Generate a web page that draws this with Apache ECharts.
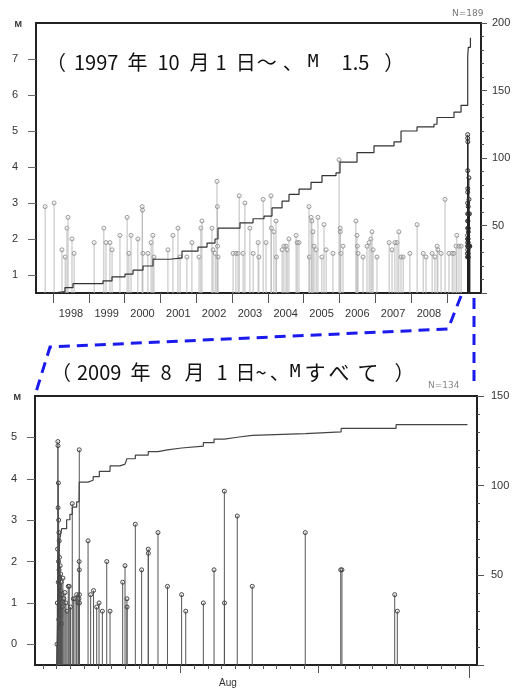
<!DOCTYPE html>
<html><head><meta charset="utf-8">
<script src="https://cdn.jsdelivr.net/npm/echarts@6/dist/echarts.min.js"></script>
<style>html,body{margin:0;padding:0;background:#fff}#c{width:528px;height:691px}</style>
</head><body><div id="c"></div>
<script>
// ---- Long-term catalogue, 1997-10 to 2009-07 (M >= 1.5): decimal year / magnitude
const longYears = [1997.78,1998.03,1998.25,1998.34,1998.39,1998.42,1998.53,1998.59,1999.15,1999.42,1999.48,1999.59,1999.65,1999.87,
  2000.07,2000.12,2000.18,2000.37,2000.49,2000.50,2000.51,2000.65,2000.74,2000.79,2000.82,2001.21,2001.35,2001.49,2001.55,2001.74,2001.88,
  2002.08,2002.13,2002.16,2002.44,2002.47,2002.53,2002.58,2002.59,2002.595,2002.61,2003.03,2003.11,2003.17,2003.20,2003.31,2003.36,2003.50,
  2003.59,2003.73,2003.75,2003.87,2003.95,2004.09,2004.10,2004.17,2004.23,2004.24,2004.40,2004.45,2004.51,2004.54,2004.59,2004.79,2004.82,
  2004.87,2005.15,2005.16,2005.21,2005.23,2005.26,2005.29,2005.35,2005.40,2005.51,2005.57,2005.63,2005.82,2005.99,2006.02,2006.025,2006.04,
  2006.10,2006.46,2006.49,2006.50,2006.52,2006.66,2006.77,2006.83,2006.88,2006.91,2006.94,2007.05,2007.39,2007.47,2007.55,2007.61,2007.66,
  2007.72,2007.78,2007.97,2008.17,2008.34,2008.42,2008.59,2008.67,2008.73,2008.75,2008.84,2008.95,2009.06,2009.15,2009.20,2009.26,2009.28,
  2009.34,2009.40];
const longMags = [2.9,3.0,1.7,1.5,2.3,2.6,2.0,1.6,1.9,2.3,1.9,1.9,1.7,2.1,
  2.6,1.6,2.1,2.0,2.9,2.8,1.6,1.6,1.9,2.1,1.5,1.7,2.1,2.3,1.5,1.5,1.9,
  1.5,2.3,2.5,2.3,1.7,1.6,3.6,2.9,1.8,1.5,1.6,1.6,1.6,3.2,1.6,3.0,2.3,
  1.6,1.9,1.5,3.1,1.9,3.2,2.3,2.2,2.5,1.5,1.7,1.8,1.8,1.7,2.0,2.1,1.9,
  1.9,2.9,1.5,2.6,2.5,2.2,1.8,1.7,2.6,1.5,2.4,1.7,1.6,4.2,2.3,2.2,1.6,
  1.8,2.5,2.1,1.8,1.6,1.5,1.8,1.9,2.0,2.2,1.7,1.5,1.9,1.7,1.9,1.9,2.2,
  1.5,1.5,1.6,2.4,1.6,1.5,1.6,1.5,1.8,1.7,1.6,3.1,1.6,1.6,1.6,1.8,2.1,
  1.8,1.8];

// ---- Cumulative number of events (M >= 1.5), long-term
const cumYears  = [1997.777,1998.0,1998.335,1998.559,1999.397,1999.648,2000.011,2000.235,2000.514,2000.793,2001.268,2001.603,2002.05,
  2002.302,2002.525,2002.609,2003.223,2003.587,2003.894,2004.117,2004.397,2004.592,2004.872,2005.207,2005.514,2005.905,2006.017,2006.492,
  2006.966,2007.525,2007.721,2008.168,2008.642,2008.726,2009.201,2009.397,2009.584,2009.60,2009.66];
const cumCounts = [0,1,4,7,9,12,14,17,20,25,26,31,34,37,40,48,52,55,57,63,68,73,77,82,87,89,97,104,109,112,120,123,125,130,134,139,175,182,189];

// ---- August 2009 swarm, all magnitudes: day of August / magnitude
const swarmDays = [2.02,2.04,2.06,2.08,2.09,2.10,2.11,2.12,2.13,2.14,2.15,2.16,2.17,2.18,2.19,2.20,2.21,2.22,2.23,2.24,2.25,2.26,2.27,2.28,
  2.29,2.30,2.31,2.33,2.35,2.37,2.40,2.45,2.52,2.60,2.67,2.75,2.84,2.91,3.00,3.13,3.21,3.33,3.45,3.55,3.62,3.63,3.64,3.645,3.65,3.655,
  4.28,4.47,4.68,4.91,5.08,5.32,5.64,5.88,6.80,6.97,7.11,7.12,7.72,8.18,8.66,8.67,9.37,10.06,11.09,11.39,12.67,13.45,14.20,14.21,
  15.14,16.23,20.09,22.67,22.76,26.60,26.79];
const swarmMags = [0.0,1.0,2.3,4.9,4.8,3.3,1.5,3.9,2.0,3.0,0.6,2.7,1.8,2.5,0.9,2.1,1.6,1.2,1.4,0.4,1.9,0.8,1.1,1.7,
  1.3,0.7,1.0,1.5,0.5,1.2,0.9,1.6,1.1,1.25,1.0,0.8,1.4,1.4,0.9,3.4,1.1,1.1,1.2,1.0,1.1,2.0,4.7,1.8,1.2,1.0,
  2.5,1.2,1.3,0.9,1.0,0.8,2.0,0.8,1.5,1.9,1.1,0.9,2.9,1.8,2.3,2.2,2.7,1.4,1.2,0.8,1.0,1.8,3.7,1.0,
  3.1,1.4,2.7,1.8,1.8,1.2,0.8];

// ---- Cumulative number of events, August 2009
const swarmCumDays   = [2.00,2.05,2.10,2.15,2.22,2.36,2.72,2.96,3.13,3.45,3.62,3.64,4.28,4.65,5.10,5.88,6.60,6.97,7.11,7.72,8.66,9.37,10.06,
  11.09,12.67,13.45,14.20,15.14,16.23,20.09,22.70,26.70,31.90];
const swarmCumCounts = [0,20,45,60,70,76,81,84,88,91,92,102,103,105,108,111,112,113,115,117,119,120,121,122,124,126,127,128,129,130,132,134,134];

const yearBounds = [1998,1999,2000,2001,2002,2003,2004,2005,2006,2007,2008,2009];
const yearLabelPos = [1998.5,1999.5,2000.5,2001.5,2002.5,2003.5,2004.5,2005.5,2006.5,2007.5,2008.5];
const magTicksTop = [1,2,3,4,5,6,7];
const magTicksBottom = [0,1,2,3,4,5];
const augDays = Array.from({length: 32}, (_, i) => i + 1);
const augTenDays = [11, 21];
const sepStart = [32];
const monthLabelPos = [14.46];

// swarm events with M >= 1.5 also belong to the long-term plot
const swarmAsYear = [];
swarmDays.forEach((d, i) => { if (swarmMags[i] >= 1.5) swarmAsYear.push([2009 + (211 + d) / 365, swarmMags[i]]); });

// heading pieces: [text, space before (px), font kind]
const headTop = [['（',0,'j'],['1997',8,'j'],['年',9,'j'],['10',10,'j'],['月',10,'j'],['1',6,'j'],['日',9,'j'],
  ['～',1,'j'],['、',6,'j'],['M',5,'m'],['1.5',23,'j'],['）',15,'j']];
const headBottom = [['（',0,'j'],['2009',6,'j'],['年',9,'j'],['8',10,'j'],['月',13,'j'],['1',12,'j'],['日',8,'j'],
  ['~',0,'j'],['、',3,'j'],['M',0,'m'],['す',4,'k'],['べ',3,'k'],['て',8,'k'],['）',16,'j']];

function heading(parts) {
  const rich = {};
  let text = '';
  parts.forEach(([t, gap, kind], i) => {
    const name = 't' + i;
    rich[name] = {
      fontFamily: kind === 'm' ? 'DejaVu Sans Mono' : 'Noto Sans CJK JP',
      fontSize: kind === 'm' ? 18 : kind === 'k' ? 21 : 20,
      fontWeight: 'normal', color: '#111', padding: [0, 0, 0, gap]
    };
    text += '{' + name + '|' + t + '}';
  });
  return { text, rich };
}
const h1 = heading(headTop), h2 = heading(headBottom);

function stem(base, lineColor, ringColor, r) {
  return function (params, api) {
    const x = api.value(0), m = api.value(1);
    const top = api.coord([x, m]);
    const bot = api.coord([x, base]);
    return { type: 'group', children: [
      { type: 'line', shape: { x1: top[0], y1: top[1], x2: bot[0], y2: bot[1] }, style: { stroke: lineColor, lineWidth: 1 } },
      { type: 'circle', shape: { cx: top[0], cy: top[1], r: r }, style: { fill: 'none', stroke: ringColor, lineWidth: 1 } }
    ]};
  };
}

const labelFont = { color: '#333', fontSize: 11, fontFamily: 'Liberation Sans' };
const axisBlack = { show: true, onZero: false, lineStyle: { color: '#222', width: 2 } };

const chart = echarts.init(document.getElementById('c'), null, { renderer: 'canvas' });
chart.setOption({
  animation: false,
  backgroundColor: '#fff',
  title: [
    { text: h1.text, left: 41, top: 47, textStyle: { fontWeight: 'normal', rich: h1.rich } },
    { text: h2.text, left: 46, top: 357, textStyle: { fontWeight: 'normal', rich: h2.rich } },
    { text: 'N=189', left: 447, top: 4, textStyle: { fontSize: 9, fontWeight: 'normal', color: '#777', fontFamily: 'DejaVu Sans' } },
    { text: 'N=134', left: 423, top: 376, textStyle: { fontSize: 9, fontWeight: 'normal', color: '#888', fontFamily: 'DejaVu Sans' } }
  ],
  grid: [
    { left: 36, top: 23, width: 445, height: 270, show: true, borderColor: '#222', borderWidth: 2, containLabel: false },
    { left: 35, top: 396, width: 442, height: 269, show: true, borderColor: '#222', borderWidth: 2, containLabel: false }
  ],
  xAxis: [
    { type: 'value', gridIndex: 0, min: 1997.525, max: 2009.955, position: 'bottom',
      axisLine: axisBlack, splitLine: { show: false },
      axisTick: { show: true, customValues: yearBounds, length: 10, lineStyle: { color: '#555', width: 1 } },
      axisLabel: { customValues: yearLabelPos, formatter: v => String(Math.floor(v)), margin: 15, ...labelFont } },
    { type: 'value', gridIndex: 1, min: 0.418, max: 32.59, position: 'bottom',
      axisLine: axisBlack, splitLine: { show: false },
      axisTick: { show: true, customValues: augDays, length: 4, lineStyle: { color: '#555', width: 1 } },
      axisLabel: { show: false } },
    { type: 'value', gridIndex: 1, min: 0.418, max: 32.59, position: 'bottom',
      axisLine: { show: false, onZero: false }, splitLine: { show: false },
      axisTick: { show: true, customValues: augTenDays, length: 8, lineStyle: { color: '#555', width: 1 } },
      axisLabel: { customValues: monthLabelPos, formatter: () => 'Aug', margin: 13, ...labelFont, fontSize: 10 } },
    { type: 'value', gridIndex: 1, min: 0.418, max: 32.59, position: 'bottom',
      axisLine: { show: false, onZero: false }, splitLine: { show: false },
      axisTick: { show: true, customValues: sepStart, length: 13, lineStyle: { color: '#555', width: 1 } },
      axisLabel: { show: false } }
  ],
  yAxis: [
    { type: 'value', gridIndex: 0, min: 0.5, max: 8, position: 'left',
      name: 'M', nameLocation: 'end', nameGap: -6,
      nameTextStyle: { fontSize: 9, fontWeight: 'bold', color: '#333', align: 'right', padding: [0, 14, 0, 0] },
      axisLine: axisBlack, splitLine: { show: false },
      axisTick: { show: true, customValues: magTicksTop, length: 8, lineStyle: { color: '#666' } },
      axisLabel: { customValues: magTicksTop, margin: 18, ...labelFont } },
    { type: 'value', gridIndex: 0, min: 0, max: 200, interval: 50, position: 'right',
      axisLine: axisBlack, splitLine: { show: false },
      axisTick: { show: true, length: 6, lineStyle: { color: '#555' } },
      minorTick: { show: true, splitNumber: 5, length: 3, lineStyle: { color: '#555' } },
      axisLabel: { showMinLabel: false, margin: 11, ...labelFont } },
    { type: 'value', gridIndex: 1, min: -0.5, max: 6, position: 'left',
      name: 'M', nameLocation: 'end', nameGap: -6,
      nameTextStyle: { fontSize: 9, fontWeight: 'bold', color: '#333', align: 'right', padding: [0, 14, 0, 0] },
      axisLine: axisBlack, splitLine: { show: false },
      axisTick: { show: true, customValues: magTicksBottom, length: 8, lineStyle: { color: '#666' } },
      axisLabel: { customValues: magTicksBottom, margin: 18, ...labelFont } },
    { type: 'value', gridIndex: 1, min: 0, max: 150, interval: 50, position: 'right',
      axisLine: axisBlack, splitLine: { show: false },
      axisTick: { show: true, length: 7, lineStyle: { color: '#555' } },
      minorTick: { show: true, splitNumber: 5, length: 3, lineStyle: { color: '#555' } },
      axisLabel: { showMinLabel: false, margin: 14, ...labelFont } }
  ],
  series: [
    { type: 'custom', xAxisIndex: 0, yAxisIndex: 0, clip: true,
      renderItem: stem(0.5, '#bdbdbd', '#999', 2),
      data: longYears.map((y, i) => [y, longMags[i]]) },
    { type: 'custom', xAxisIndex: 0, yAxisIndex: 0, clip: true,
      renderItem: stem(0.5, '#222', '#333', 2),
      data: swarmAsYear },
    { type: 'line', xAxisIndex: 0, yAxisIndex: 1, step: 'end', symbol: 'none',
      lineStyle: { color: '#333', width: 1.2 },
      data: cumYears.map((y, i) => [y, cumCounts[i]]) },
    { type: 'custom', xAxisIndex: 1, yAxisIndex: 2, clip: true,
      renderItem: stem(-0.5, '#555', '#444', 2),
      data: swarmDays.map((d, i) => [d, swarmMags[i]]) },
    { type: 'line', xAxisIndex: 1, yAxisIndex: 3, step: 'end', symbol: 'none',
      lineStyle: { color: '#444', width: 1.2 },
      data: swarmCumDays.map((d, i) => [d, swarmCumCounts[i]]) }
  ],
  // connector from the swarm period to the enlarged view
  graphic: [
    { type: 'polyline', shape: { points: [[461, 296], [448, 329], [50, 347], [36, 392]] },
      style: { stroke: '#1a1aee', lineWidth: 3, lineDash: [11, 7], fill: null } },
    { type: 'polyline', shape: { points: [[474, 298], [474, 382]] },
      style: { stroke: '#1a1aee', lineWidth: 3, lineDash: [11, 7], fill: null } }
  ]
});
</script></body></html>
